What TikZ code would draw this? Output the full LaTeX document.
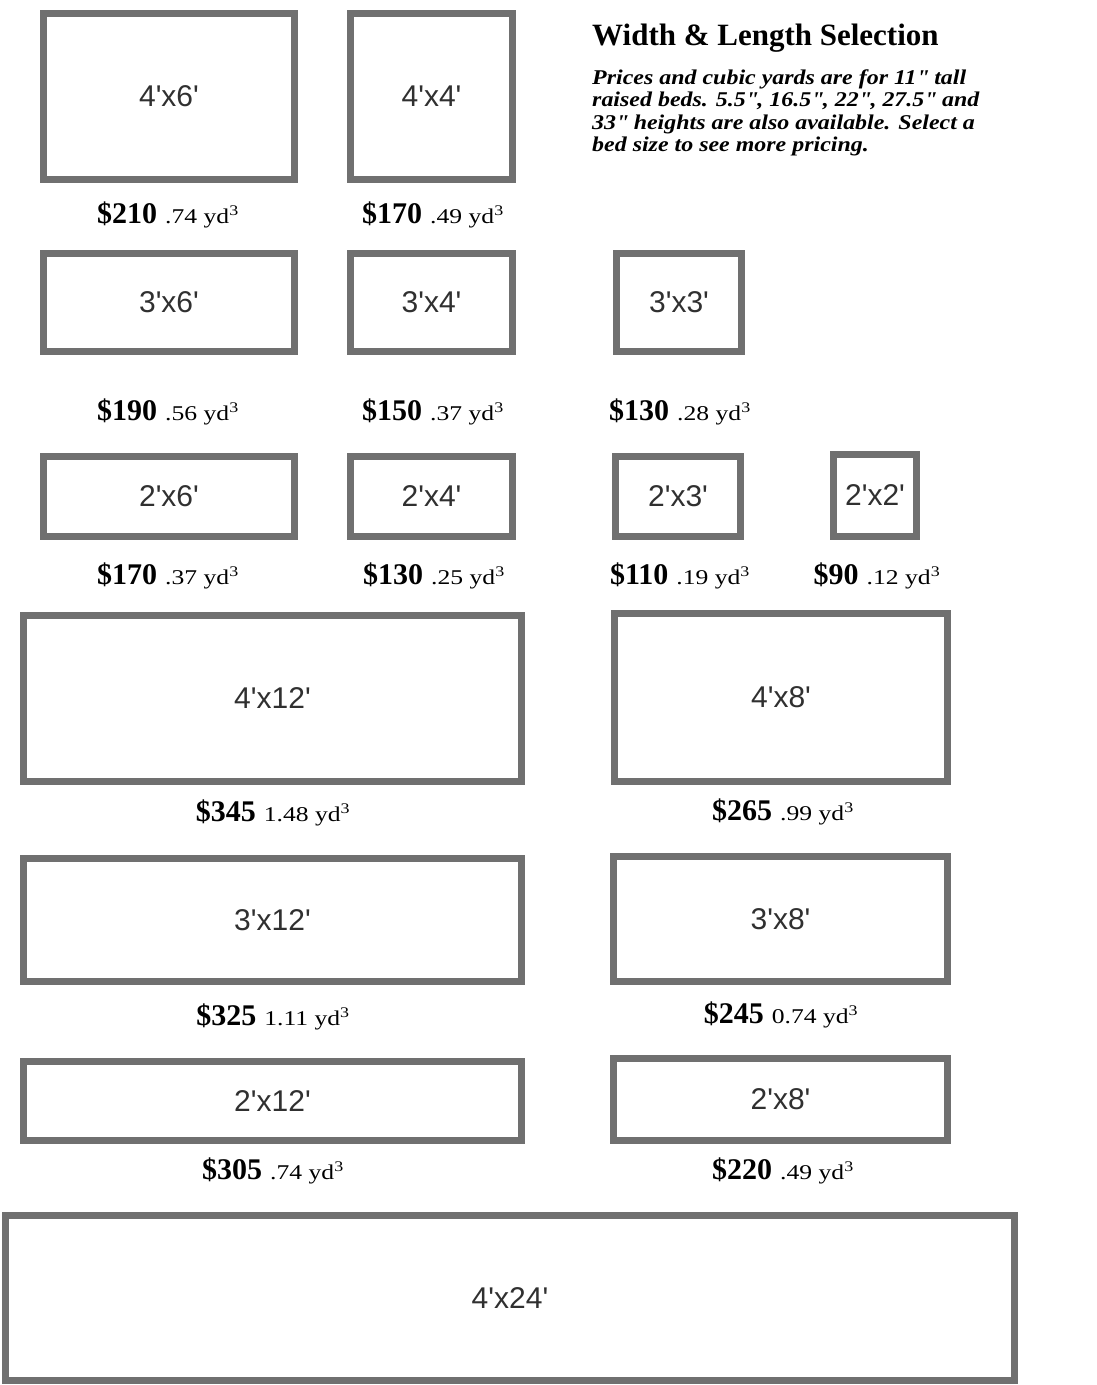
\documentclass[tikz,border=0pt]{standalone}
\usepackage{fontspec}
\setmainfont{Liberation Serif}
\newfontfamily\boxfont{Liberation Sans}
\newfontfamily\volfam[FakeStretch=1.22]{Liberation Serif}
\newfontfamily\descfam[FakeStretch=1.14]{Liberation Serif}
\definecolor{bordergray}{HTML}{707070}
\definecolor{labelgray}{HTML}{303030}
\newcommand{\pricefont}{\bfseries\fontsize{30}{30}\selectfont}
\newcommand{\volfont}{\volfam\fontsize{21}{21}\selectfont}
\newcommand{\bp}[2]{{\pricefont\$#1}\hspace{8pt}{\volfont #2 yd\textsuperscript{3}}}
\newcommand{\dq}{\textquotedbl}
\tikzset{
  bed/.style={draw=bordergray, line width=7pt, fill=white, inner sep=0pt,
    font=\boxfont\fontsize{30}{30}\selectfont, text=labelgray},
  pricelabel/.style={inner sep=0pt, anchor=base},
  descline/.style={anchor=base west, inner sep=0pt, font=\descfam\bfseries\itshape\fontsize{21}{22.6}\selectfont},
}
% \bedbox{name}{x1}{y1}{x2}{y2}{label}
\newcommand{\bedbox}[6]{%
  \node[bed, minimum width={(#4-#2-7)*1pt}, minimum height={(#5-#3-7)*1pt}]
    (#1) at ({(#2+#4)/2},{(#3+#5)/2}) {#6};}
\begin{document}
\begin{tikzpicture}[x=1pt,y=-1pt]
\useasboundingbox[fill=white] (0,0) rectangle (1096,1385);
% header text
\node[anchor=base west, inner sep=0pt, font=\bfseries\fontsize{31}{31}\selectfont] (title) at (592,45) {Width \& Length Selection};
\node[descline] (desc1) at (592,84) {Prices and cubic yards are for 11\dq\ tall};
\node[descline] (desc2) at (592,106.6) {raised beds. 5.5\dq, 16.5\dq, 22\dq, 27.5\dq\ and};
\node[descline] (desc3) at (592,129.2) {33\dq\ heights are also available. Select a};
\node[descline] (desc4) at (592,151.8) {bed size to see more pricing.};
% row 1
\bedbox{b46}{40}{10}{298}{183}{4'x6'}
\bedbox{b44}{347}{10}{516}{183}{4'x4'}
\node[pricelabel] (p46) at (168,223) {\bp{210}{.74}};
\node[pricelabel] (p44) at (433,223) {\bp{170}{.49}};
% row 2
\bedbox{b36}{40}{250}{298}{355}{3'x6'}
\bedbox{b34}{347}{250}{516}{355}{3'x4'}
\bedbox{b33}{613}{250}{745}{355}{3'x3'}
\node[pricelabel] (p36) at (168,420) {\bp{190}{.56}};
\node[pricelabel] (p34) at (433,420) {\bp{150}{.37}};
\node[pricelabel] (p33) at (680,420) {\bp{130}{.28}};
% row 3
\bedbox{b26}{40}{453}{298}{540}{2'x6'}
\bedbox{b24}{347}{453}{516}{540}{2'x4'}
\bedbox{b23}{612}{453}{744}{540}{2'x3'}
\bedbox{b22}{830}{451}{920}{540}{2'x2'}
\node[pricelabel] (p26) at (168,584) {\bp{170}{.37}};
\node[pricelabel] (p24) at (434,584) {\bp{130}{.25}};
\node[pricelabel] (p23) at (680,584) {\bp{110}{.19}};
\node[pricelabel] (p22) at (877,584) {\bp{90}{.12}};
% row 4
\bedbox{b412}{20}{612}{525}{785}{4'x12'}
\bedbox{b48}{611}{610}{951}{785}{4'x8'}
\node[pricelabel] (p412) at (273,821) {\bp{345}{1.48}};
\node[pricelabel] (p48) at (783,820) {\bp{265}{.99}};
% row 5
\bedbox{b312}{20}{855}{525}{985}{3'x12'}
\bedbox{b38}{610}{853}{951}{985}{3'x8'}
\node[pricelabel] (p312) at (273,1025) {\bp{325}{1.11}};
\node[pricelabel] (p38) at (781,1023) {\bp{245}{0.74}};
% row 6
\bedbox{b212}{20}{1058}{525}{1144}{2'x12'}
\bedbox{b28}{610}{1055}{951}{1144}{2'x8'}
\node[pricelabel] (p212) at (273,1179) {\bp{305}{.74}};
\node[pricelabel] (p28) at (783,1179) {\bp{220}{.49}};
% row 7
\bedbox{b424}{2}{1212}{1018}{1384}{4'x24'}
\end{tikzpicture}
\end{document}
